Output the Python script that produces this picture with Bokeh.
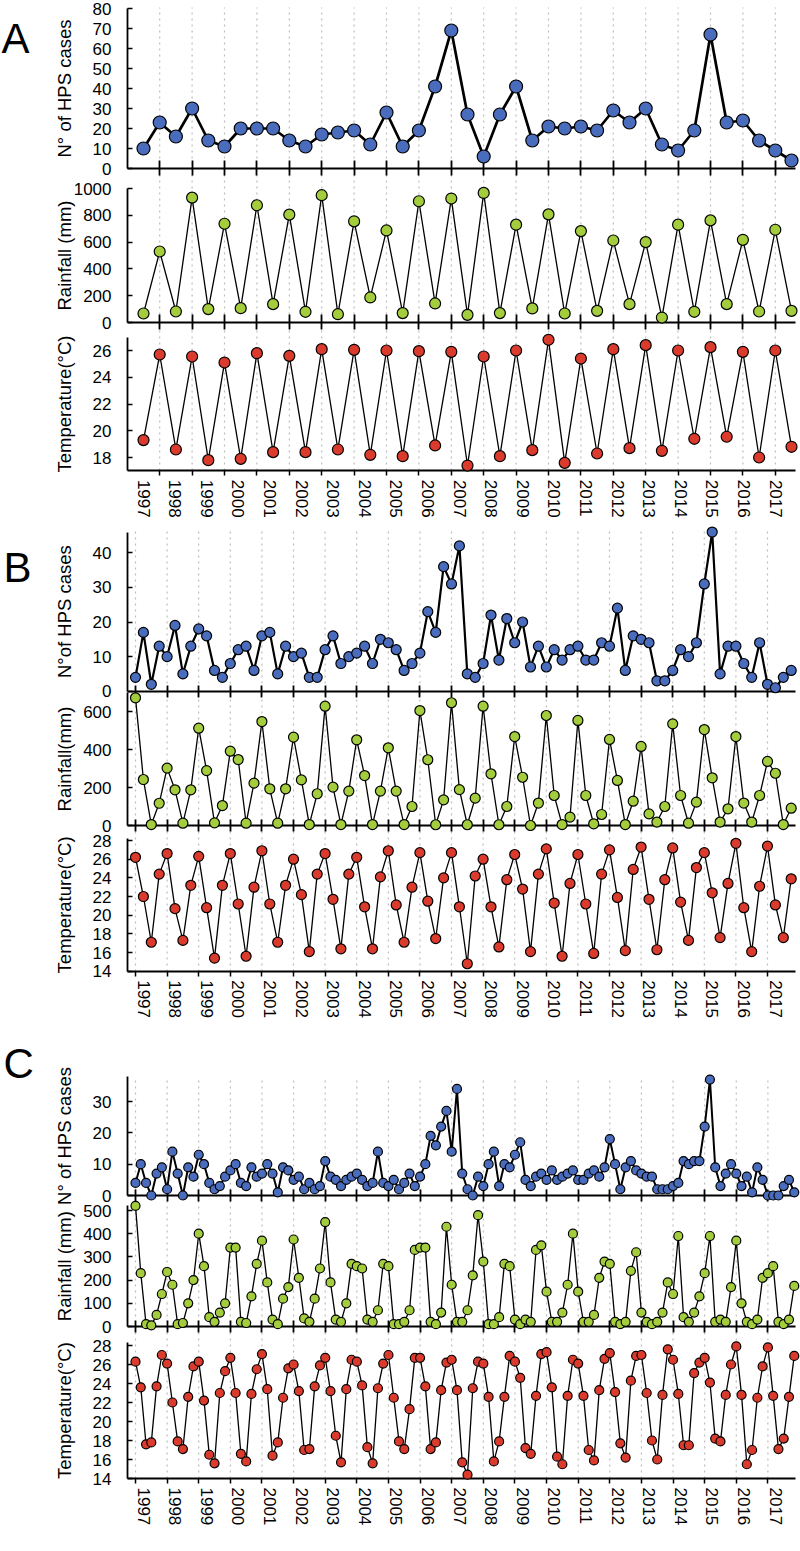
import math
from bokeh.plotting import figure
from bokeh.models import Range1d, LinearAxis, FixedTicker, Label, CustomJSTickFormatter
from bokeh.core.properties import value
from bokeh.layouts import column
from bokeh.embed import file_html
from bokeh.resources import INLINE

YEARS = [str(y) for y in range(1997, 2018)]

# ---------------- Panel A (half-yearly) ----------------
A_HPS = [10, 23, 16, 30, 14, 11, 20, 20, 20, 14, 11, 17, 18, 19, 12, 28, 11, 19, 41, 69,
         27, 6, 27, 41, 14, 21, 20, 21, 19, 29, 23, 30, 12, 9, 19, 67, 23, 24, 14, 9, 4]
A_RAIN = [67, 530, 82, 932, 100, 737, 107, 875, 137, 805, 80, 950, 62, 755, 187, 687, 70, 905,
          142, 925, 57, 967, 70, 730, 105, 807, 67, 682, 87, 612, 137, 600, 37, 730, 80, 762,
          137, 617, 82, 692, 87]
A_TEMP = [19.3, 25.7, 18.6, 25.55, 17.8, 25.1, 17.9, 25.8, 18.4, 25.6, 18.4, 26.1, 18.6, 26.05,
          18.2, 26.0, 18.1, 25.95, 18.9, 25.9, 17.4, 25.55, 18.1, 26.0, 18.55, 26.8, 17.6, 25.4,
          18.3, 26.1, 18.7, 26.4, 18.5, 26.0, 19.4, 26.25, 19.55, 25.9, 18.0, 26.0, 18.8]

# ---------------- Panel B (quarterly) ----------------
B_HPS = [4, 17, 2, 13, 10, 19, 5, 13, 18, 16, 6, 4, 8, 12, 13, 6, 16, 17, 5, 13,
         10, 11, 4, 4, 12, 16, 8, 10, 11, 13, 8, 15, 14, 12,
         6, 8, 11, 23, 17, 36, 31, 42, 5, 4, 8, 22, 9, 21, 14, 20,
         7, 13, 7, 12, 9, 12, 13, 9, 9, 14, 13, 24, 6, 16, 15, 14, 3, 3, 6, 12,
         10, 14, 31, 46, 5, 13, 13, 8, 4, 14, 2, 1, 4, 6]
B_RAIN = [672, 242, 5, 117, 302, 188, 12, 188, 512, 289, 14, 105, 391, 347, 12, 223, 547, 193,
          12, 193, 465, 240, 5, 167, 628, 202, 5, 181, 451, 263, 5, 181, 409, 181, 5,
          100, 605, 346, 4, 135, 646, 189, 4, 144, 628, 272, 4, 100, 468, 254, 0, 118, 579,
          158, 5, 44, 553, 158, 9, 58, 453, 237, 5, 128, 416, 61, 18, 100, 535, 158, 12, 123,
          505, 251, 18, 88, 468, 118, 18, 158, 337, 275, 5, 91]
B_TEMP = [26.2, 22.0, 17.1, 24.4, 26.6, 20.7, 17.3, 23.2, 26.3, 20.8, 15.4, 23.2, 26.6, 21.2,
          15.6, 23.0, 26.9, 21.2, 17.1, 23.2, 26.0, 22.2, 16.1, 24.4, 26.6, 21.7, 16.4, 24.4,
          26.2, 20.9, 16.4, 24.1, 26.9, 21.1,
          17.1, 23.0, 26.7, 21.5, 17.5, 24.0, 26.7, 20.9, 14.8, 24.2, 26.0, 20.9, 16.6, 23.8,
          26.5, 22.8, 16.1, 24.4, 27.1, 21.3, 15.6, 23.4, 26.5, 21.2, 15.9, 24.4, 27.0, 21.9,
          16.2, 24.9, 27.3, 21.7, 16.3, 23.8, 27.2, 21.4, 17.3, 25.1, 26.7, 22.4, 17.6, 23.4,
          27.7, 20.8, 16.1, 23.1, 27.4, 21.1, 17.6, 23.9]

# ---------------- Panel C (bimonthly) ----------------
C_HPS = [4, 10, 4, 0, 7, 9, 2, 14, 7, 0, 9, 6,
         13, 10, 4, 2, 3, 6, 8, 10, 4, 3, 9, 6,
         7, 10, 7, 1, 9, 8, 5, 6, 2, 4, 2, 3,
         11, 6, 5, 3, 5, 6, 7, 5, 3, 4, 14, 4,
         3, 5, 2, 4, 7, 3, 6, 10, 19, 16, 22, 27,
         14, 34, 7, 2, 0, 6, 3, 10, 14, 3, 10, 9,
         13, 17, 5, 3, 6, 7, 5, 8, 5, 6, 7, 8,
         5, 5, 7, 8, 6, 9, 18, 10, 2, 9, 11, 8,
         7, 6, 6, 2, 2, 2, 3, 4, 11, 10, 11, 11,
         22, 37, 9, 3, 7, 10, 7, 3, 6, 1, 9, 5,
         0, 0, 0, 3, 5, 1]
C_RAIN = [520, 230, 10, 5, 50, 140, 235, 180, 10, 15, 100, 200,
          400, 260, 40, 20, 60, 100, 340, 340, 20, 15, 130, 270,
          370, 190, 30, 10, 120, 170, 375, 210, 35, 20, 120, 250,
          450, 190, 30, 20, 100, 270, 260, 250, 30, 20, 70, 270,
          260, 10, 10, 20, 70, 330, 340, 340, 20, 10, 60, 430,
          180, 20, 20, 70, 220, 480, 280, 10, 10, 40, 270, 260,
          30, 10, 30, 20, 330, 350, 150, 20, 20, 60, 180, 400,
          150, 20, 20, 50, 210, 280, 270, 20, 10, 20, 240, 320,
          60, 20, 10, 20, 60, 190, 140, 390, 40, 20, 60, 130,
          230, 390, 20, 30, 20, 170, 370, 100, 20, 10, 30, 210,
          230, 260, 20, 10, 30, 175]
C_TEMP = [26.3, 23.6, 17.6, 17.8, 23.7, 27.0, 26.1, 22.0, 17.9, 17.1, 22.6, 25.8,
          26.3, 22.2, 16.5, 15.6, 23.0, 25.3, 26.7, 23.0, 16.6, 15.8, 22.9, 25.5,
          27.1, 23.4, 16.4, 17.8, 22.5, 25.6, 26.0, 23.2, 17.0, 17.1, 23.7, 25.9,
          26.7, 23.2, 18.5, 15.7, 23.4, 26.5, 26.3, 23.8, 17.3, 15.6, 23.5, 26.1,
          27.0, 22.5, 17.9, 17.1, 21.3, 26.7, 26.7, 23.7, 17.1, 17.8, 23.3, 26.2,
          26.5, 23.3, 15.7, 14.4, 23.5, 26.3, 26.1, 22.6, 15.8, 17.9, 22.6, 26.9,
          26.3, 24.6, 17.2, 16.6, 22.7, 27.1, 27.3, 23.6, 16.3, 15.5, 22.7, 26.5,
          26.1, 22.7, 17.0, 15.9, 23.3, 26.6, 27.2, 23.1, 17.7, 16.2, 24.3, 26.9,
          27.0, 23.0, 18.0, 16.0, 22.8, 27.6, 26.5, 22.9, 17.5, 17.5, 25.1, 26.2,
          26.7, 24.1, 18.2, 17.9, 22.8, 26.0, 27.9, 22.8, 15.5, 17.0, 22.5, 25.8,
          27.8, 22.7, 17.1, 18.2, 22.6, 26.9]

FONT = "Liberation Sans"
BLUE = "#4a6cbd"
GREEN = "#a3cd3c"
RED = "#db3b2d"
GRID = "#bdbdbd"

FIG_W = 800
AX_L, AX_R = 127, 795              # page x of the axis lines
LAB_PX0, LAB_STEP = 143.0, 31.6    # page x of year label centres
TITLE_X = 63.5                     # page x anchor of the y-axis titles


def build(letter, fig_top, fig_bot, n, px_first, px_step, grid_pos, series, subs,
          grid_top, grid_bot, size, hps_lw, letter_xy, tick_in, tick_out):
    H = fig_bot - fig_top

    def ix(px):          # page x -> index coordinate
        return (px - px_first) / px_step

    def iy(py):          # page y -> px from figure bottom (default y range)
        return H - (py - fig_top)

    lab_pos = [ix(LAB_PX0 + LAB_STEP * k) for k in range(len(YEARS))]
    p = figure(width=FIG_W, height=H, x_range=Range1d(ix(0), ix(FIG_W)),
               y_range=Range1d(0, H), output_backend="svg", toolbar_location=None,
               x_axis_location=None, y_axis_location=None,
               min_border_left=0, min_border_right=0, min_border_top=0, min_border_bottom=0)
    p.outline_line_color = None
    p.center = []
    xb = (ix(AX_L), ix(AX_R))

    # dotted vertical grid, limited to the panel
    p.segment(x0=grid_pos, y0=[iy(grid_bot)] * len(grid_pos), x1=grid_pos,
              y1=[iy(grid_top)] * len(grid_pos), line_color=GRID, line_dash="2 4",
              line_width=1.2, level="underlay")

    ranges = {}
    for j, s in enumerate(subs):
        name = f"{letter}{j}"
        pb, pt = iy(s["ylo"]), iy(s["yhi"])
        sc = (s["hi"] - s["lo"]) / (pt - pb)
        ranges[name] = Range1d(s["lo"] - pb * sc, s["lo"] + (H - pb) * sc)
    p.extra_y_ranges = ranges

    xs = list(range(n))
    last = len(subs) - 1
    for j, (vals, s) in enumerate(zip(series, subs)):
        name = f"{letter}{j}"
        rng = ranges[name]
        yax = LinearAxis(y_range_name=name, fixed_location=xb[0], bounds=s["bounds"],
                         ticker=FixedTicker(ticks=s["ticks"], minor_ticks=[]),
                         major_tick_in=5, major_tick_out=0, minor_tick_line_color=None,
                         major_label_standoff=16, axis_line_width=1.8, major_tick_line_width=1.5,
                         major_label_text_font=FONT, major_label_text_font_size="17px",
                         major_label_text_color="black")
        p.add_layout(yax, "left")
        lo_b = s["bounds"][0]
        if j < last:
            xax = LinearAxis(y_range_name=name, fixed_location=lo_b, bounds=xb,
                             ticker=FixedTicker(ticks=[], minor_ticks=grid_pos),
                             minor_tick_in=tick_in, minor_tick_out=tick_out,
                             major_tick_line_color=None, minor_tick_line_width=1.8,
                             minor_tick_line_color="black", axis_line_width=1.8)
        else:
            fmt = CustomJSTickFormatter(args=dict(pos=lab_pos, labels=YEARS), code="""
                let best = 0, bd = 1e9;
                for (let i = 0; i < pos.length; i++) {
                    const d = Math.abs(pos[i] - tick);
                    if (d < bd) { bd = d; best = i; }
                }
                return labels[best];""")
            xax = LinearAxis(y_range_name=name, fixed_location=lo_b, bounds=xb,
                             ticker=FixedTicker(ticks=lab_pos, minor_ticks=grid_pos),
                             formatter=fmt, major_tick_in=0, major_tick_out=0,
                             minor_tick_in=0, minor_tick_out=5, minor_tick_line_width=1.5,
                             minor_tick_line_color="black",
                             major_label_orientation=-math.pi / 2, major_label_standoff=4,
                             axis_line_width=1.8,
                             major_label_text_font=FONT, major_label_text_font_size="17px",
                             major_label_text_color="black")
        p.add_layout(xax, "below")
        lw = hps_lw if j == 0 else 1.3
        p.line(xs, vals, line_color="black", line_width=lw, y_range_name=name, level="overlay")
        p.scatter(xs, vals, marker="circle", size=size[j], fill_color=s["color"],
                  line_color="black", line_width=1.2, y_range_name=name, level="overlay")
        # axis title, centred on the axis extent
        bl, bh = s["bounds"]
        ymid = ((bl + bh) / 2 - rng.start) / (rng.end - rng.start) * H
        p.add_layout(Label(x=ix(TITLE_X), y=ymid, text=s["title"], angle=math.pi / 2,
                           text_align="center", text_baseline="alphabetic", text_font=FONT,
                           text_font_size="18.5px", text_color="black"))
    # panel letter
    p.text(x=[ix(letter_xy[0])], y=[iy(letter_xy[1])], text=[letter], text_align="left",
           text_baseline="alphabetic", text_font=value(FONT), text_font_size="42px",
           text_color="black")
    return p


subsA = [
    dict(lo=0, hi=80, ylo=168, yhi=8, bounds=(0, 80), ticks=list(range(0, 81, 10)),
         title="N° of HPS cases", color=BLUE),
    dict(lo=0, hi=1000, ylo=322, yhi=188, bounds=(0, 1000), ticks=list(range(0, 1001, 200)),
         title="Rainfall (mm)", color=GREEN),
    dict(lo=18, hi=26, ylo=457, yhi=350, bounds=(17, 27), ticks=[18, 20, 22, 24, 26],
         title="Temperature(°C)", color=RED),
]
subsB = [
    dict(lo=0, hi=40, ylo=690.7, yhi=552.3, bounds=(0, 46), ticks=[0, 10, 20, 30, 40],
         title="N°of HPS cases", color=BLUE),
    dict(lo=0, hi=600, ylo=825, yhi=711, bounds=(0, 700), ticks=[0, 200, 400, 600],
         title="Rainfall(mm)", color=GREEN),
    dict(lo=14, hi=28, ylo=970.7, yhi=840, bounds=(14, 28.2), ticks=list(range(14, 29, 2)),
         title="Temperature(°C)", color=RED),
]
subsC = [
    dict(lo=0, hi=30, ylo=1195, yhi=1101, bounds=(0, 38), ticks=[0, 10, 20, 30],
         title="N° of HPS cases", color=BLUE),
    dict(lo=0, hi=500, ylo=1326, yhi=1210, bounds=(0, 520), ticks=list(range(0, 501, 100)),
         title="Rainfall (mm)", color=GREEN),
    dict(lo=14, hi=28, ylo=1478, yhi=1345, bounds=(14, 28.3), ticks=list(range(14, 29, 2)),
         title="Temperature(°C)", color=RED),
]

pA = build("A", 0, 524, len(A_HPS), 143.0, 16.2, list(range(1, 40, 2)),
           [A_HPS, A_RAIN, A_TEMP], subsA, grid_top=7, grid_bot=470, size=[13, 11, 11],
           hps_lw=2.7, letter_xy=(1, 38), tick_in=8, tick_out=7)
pB = build("B", 524, 1022, len(B_HPS), 135.0, 7.9, list(range(0, 84, 4)),
           [B_HPS, B_RAIN, B_TEMP], subsB, grid_top=531, grid_bot=971, size=[10, 10, 10],
           hps_lw=2.2, letter_xy=(3, 567), tick_in=6, tick_out=6)
pC = build("C", 1022, 1551, len(C_HPS), 135.0, 5.27, list(range(0, 126, 6)),
           [C_HPS, C_RAIN, C_TEMP], subsC, grid_top=1076, grid_bot=1478, size=[9, 9, 9],
           hps_lw=2.0, letter_xy=(3, 1063), tick_in=6, tick_out=6)

layout = column(pA, pB, pC, spacing=0)
open("out.html", "w").write(file_html(layout, INLINE))
